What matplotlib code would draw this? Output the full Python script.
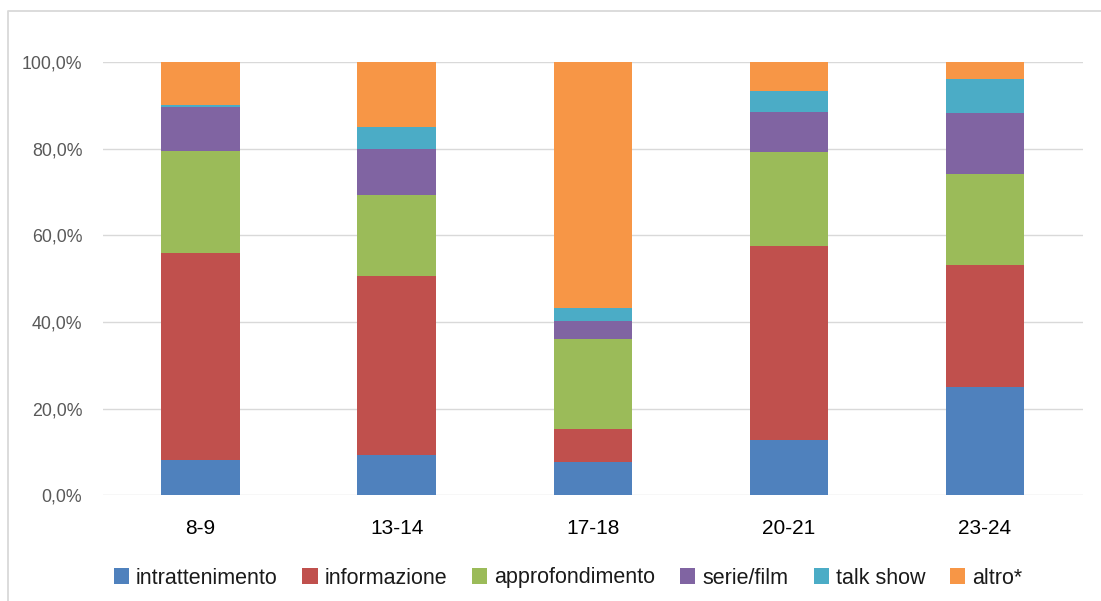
import numpy as np
import matplotlib
matplotlib.use('Agg')
import matplotlib.pyplot as plt
from matplotlib.lines import Line2D
from matplotlib.ticker import FuncFormatter

fasce = ['8-9', '13-14', '17-18', '20-21', '23-24']
serie_nomi = ['intrattenimento', 'informazione', 'approfondimento', 'serie/film', 'talk show', 'altro*']

intrattenimento = [8.2, 9.3, 7.7, 12.8, 24.9]
informazione = [47.7, 41.3, 7.6, 44.7, 28.3]
approfondimento = [23.6, 18.7, 20.8, 21.7, 21.0]
serie_film = [10.1, 10.6, 4.1, 9.3, 14.0]
talk_show = [0.5, 5.1, 3.1, 4.8, 7.9]
altro = [9.9, 15.0, 56.7, 6.7, 3.9]

valori = [intrattenimento, informazione, approfondimento, serie_film, talk_show, altro]
colori = ['#4F81BD', '#C0504D', '#9BBB59', '#8064A2', '#4BACC6', '#F79646']

fig = plt.figure(figsize=(11.01, 6.01), dpi=100)
ax = fig.add_axes([102.5/1101, 105.7/601, (1083-102.5)/1101, (495.3-62)/601])

x = np.arange(len(fasce))
base = np.zeros(len(fasce))
for nome, v, c in zip(serie_nomi, valori, colori):
    ax.bar(x, v, 0.4, bottom=base, color=c, label=nome, zorder=3)
    base += np.array(v)

ax.set_xlim(-0.5, len(fasce) - 0.5)
ax.set_ylim(0, 100)
ax.set_yticks(np.arange(0, 101, 20))
ax.yaxis.set_major_formatter(FuncFormatter(lambda v, p: ('%.1f%%' % v).replace('.', ',')))
ax.set_xticks(x)
ax.set_xticklabels(fasce, fontsize=15, family='Liberation Sans', color='black')
ax.tick_params(axis='x', length=0, pad=17)
ax.tick_params(axis='y', length=0, pad=14.5, labelsize=12.8, labelcolor='#595959')
for lab in ax.get_yticklabels():
    lab.set_family('Liberation Sans')
ax.grid(axis='y', color='#d9d9d9', linewidth=1.0, zorder=0)
for s in ax.spines.values():
    s.set_visible(False)

# bordo del grafico: solo lato sinistro e superiore sono visibili
xb, yb = 8/1101, 1 - 11/601
fig.add_artist(Line2D([xb, xb, 1.0], [0.0, yb, yb], transform=fig.transFigure,
                      color='#d9d9d9', linewidth=1.3))

leg = fig.legend(loc='center', bbox_to_anchor=(568/1101, 1 - 578/601), ncol=6, frameon=False,
                 prop={'family': 'Liberation Sans', 'size': 15.5},
                 handlelength=0.7, handleheight=0.7, handletextpad=0.33, columnspacing=1.16)
for t in leg.get_texts():
    t.set_color('#1a1a1a')

fig.savefig('out.png', dpi=100)
